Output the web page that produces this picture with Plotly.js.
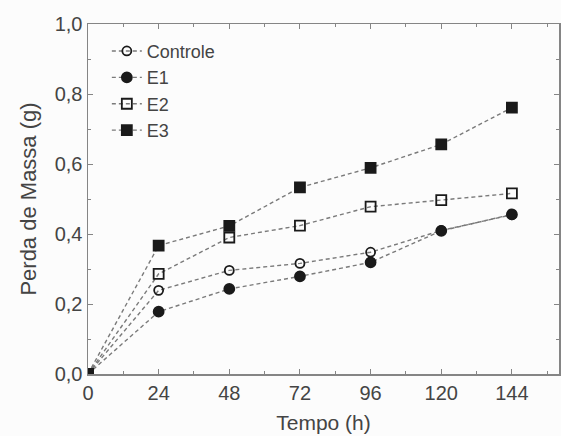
<!DOCTYPE html>
<html><head><meta charset="utf-8">
<script src="https://cdn.plot.ly/plotly-3.0.1.min.js"></script>
<style>html,body{margin:0;padding:0;background:#fcfcfc}</style>
</head><body><div id="chart" style="width:561px;height:436px"></div>
<script>
const tempo = [0, 24, 48, 72, 96, 120, 144];
const controle = [0, 0.239, 0.296, 0.316, 0.348, 0.410, 0.455];
const e1 = [0, 0.178, 0.243, 0.279, 0.319, 0.409, 0.456];
const e2 = [0, 0.286, 0.390, 0.424, 0.478, 0.497, 0.516];
const e3 = [0, 0.367, 0.423, 0.533, 0.589, 0.656, 0.761];
const seriesNames = ['Controle', 'E1', 'E2', 'E3'];
const xTicks = [0, 24, 48, 72, 96, 120, 144];
const yTicks = [0, 0.2, 0.4, 0.6, 0.8, 1.0];

const FONT = 'Liberation Sans, Arial, sans-serif';
const symbols = ['circle-open', 'circle', 'square-open', 'square'];
const data = [controle, e1, e2, e3].map((ys, i) => ({
  x: tempo, y: ys, name: seriesNames[i], type: 'scatter', mode: 'lines+markers',
  line: {color: '#7a7a7a', width: 1.4, dash: '4px,3px'},
  marker: {symbol: symbols[i], size: i === 0 ? 9 : 10, color: '#1a1a1a',
           line: {color: '#1a1a1a', width: 1.8}}
}));

const axisCommon = {
  showline: true, linecolor: '#858585', linewidth: 1.5, mirror: 'allticks',
  ticks: 'inside', ticklen: 5, tickcolor: '#858585', showgrid: false, zeroline: false,
  tickfont: {family: FONT, size: 20, color: '#444'}
};

const layout = {
  width: 561, height: 436,
  margin: {l: 88, r: 2, t: 24, b: 62},
  paper_bgcolor: '#fcfcfc', plot_bgcolor: '#fcfcfc',
  separators: ',.',
  showlegend: true,
  legend: {x: 0.04, y: 0.975, xanchor: 'left', yanchor: 'top', bgcolor: 'rgba(0,0,0,0)',
           font: {family: FONT, size: 18, color: '#444'},
           tracegroupgap: 0, itemwidth: 30},
  xaxis: Object.assign({}, axisCommon, {
    range: [0, 160], tickvals: xTicks, ticktext: xTicks.map(String),
    minor: {dtick: 12, tick0: 0, ticks: 'inside', ticklen: 3, tickcolor: '#858585'},
    title: {text: 'Tempo (h)', standoff: 13, font: {family: FONT, size: 21, color: '#444'}}
  }),
  yaxis: Object.assign({}, axisCommon, {
    range: [0, 1.0], tickvals: yTicks, tickformat: '.1f',
    minor: {dtick: 0.1, tick0: 0, ticks: 'inside', ticklen: 3, tickcolor: '#858585'},
    title: {text: 'Perda de Massa (g)', standoff: 12, font: {family: FONT, size: 22, color: '#444'}}
  })
};
Plotly.newPlot('chart', data, layout, {displayModeBar: false, staticPlot: true});
</script></body></html>
